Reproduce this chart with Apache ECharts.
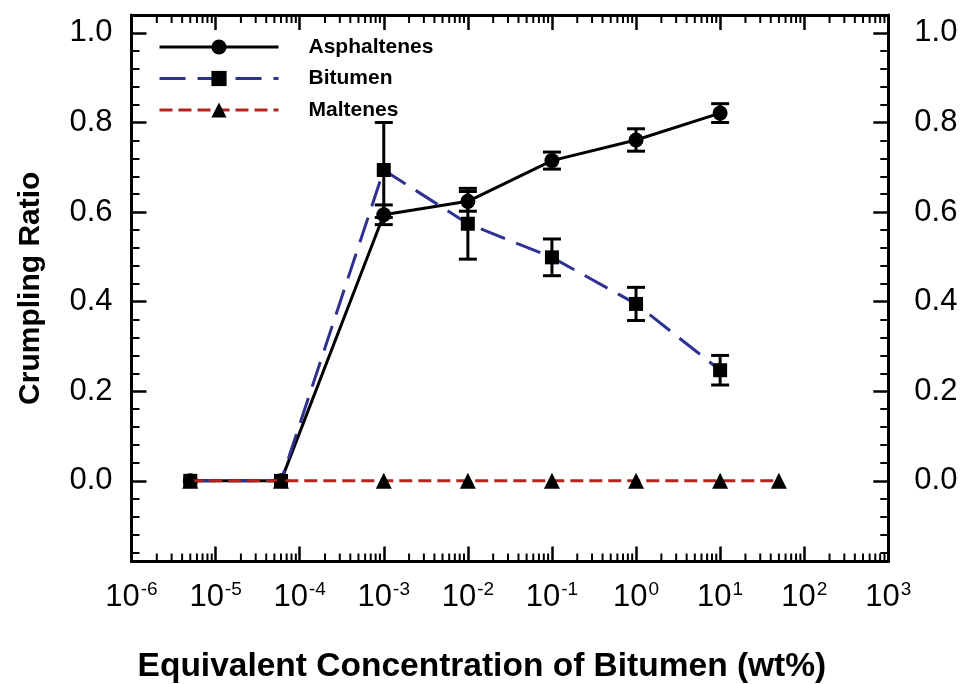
<!DOCTYPE html>
<html>
<head>
<meta charset="utf-8">
<script src="https://cdn.jsdelivr.net/npm/echarts@6/dist/echarts.min.js"></script>
<style>
  html, body { margin: 0; padding: 0; background: #fff; }
  #chart { width: 967px; height: 684px; }
</style>
</head>
<body>
<div id="chart"></div>
<script>
// Equivalent bitumen concentration (wt%) for each measurement
const concentrations = [5e-6, 6e-5, 1e-3, 1e-2, 1e-1, 1, 10];
const malteneConcentrations = [5e-6, 6e-5, 1e-3, 1e-2, 1e-1, 1, 10, 50];

// Crumpling ratio and standard deviation per fraction
const asphaltenes = [0, 0, 0.594, 0.624, 0.715, 0.761, 0.821];
const asphaltenesErr = [0, 0, 0.022, 0.022, 0.019, 0.025, 0.021];
const bitumen = [0, 0, 0.694, 0.574, 0.499, 0.395, 0.247];
const bitumenErr = [0, 0, 0.106, 0.079, 0.041, 0.037, 0.033];
const maltenes = [0, 0, 0, 0, 0, 0, 0, 0];

// Axis ranges and tick labels
const xMin = 1e-6, xMax = 1e3;
const yMin = -0.18, yMax = 1.04;
const yTickLabels = ['0.0', '0.2', '0.4', '0.6', '0.8', '1.0'];
const logMinorMultipliers = [2, 3, 4, 5, 6, 7, 8, 9];

const FONT = 'Liberation Sans, Arial, Helvetica, sans-serif';

function pairs(xs, ys) { return xs.map((x, i) => [x, ys[i]]); }
function errRows(xs, ys, es) {
  const out = [];
  xs.forEach((x, i) => { if (es[i] > 0) out.push([x, ys[i] - es[i], ys[i] + es[i]]); });
  return out;
}

// positions of the 2..9 minor ticks within each decade
const minorTickValues = [];
for (let e = Math.log10(xMin); e < Math.log10(xMax); e++) {
  logMinorMultipliers.forEach(m => minorTickValues.push([m * Math.pow(10, e)]));
}

const chart = echarts.init(document.getElementById('chart'), null, { renderer: 'canvas' });

const frameLine = { show: true, onZero: false, lineStyle: { color: '#000', width: 3 } };

function yAxisLabel(v) {
  const s = v.toFixed(1);
  return yTickLabels.indexOf(s) >= 0 && Math.abs(v * 5 - Math.round(v * 5)) < 1e-6 ? s : '';
}

function errorBarRender(params, api) {
  const x = api.value(0);
  const lo = api.coord([x, api.value(1)]);
  const hi = api.coord([x, api.value(2)]);
  const w = 9;
  const st = { stroke: '#000', lineWidth: 3 };
  return {
    type: 'group',
    children: [
      { type: 'line', shape: { x1: lo[0], y1: lo[1], x2: hi[0], y2: hi[1] }, style: st },
      { type: 'line', shape: { x1: lo[0] - w, y1: lo[1], x2: lo[0] + w, y2: lo[1] }, style: st },
      { type: 'line', shape: { x1: hi[0] - w, y1: hi[1], x2: hi[0] + w, y2: hi[1] }, style: st }
    ]
  };
}

function minorTickRender(params, api) {
  const x = api.coord([api.value(0), 0])[0];
  const cs = params.coordSys;
  const top = cs.y, bottom = cs.y + cs.height;
  const st = { stroke: '#000', lineWidth: 2 };
  return {
    type: 'group',
    children: [
      { type: 'line', shape: { x1: x, y1: bottom, x2: x, y2: bottom - 8 }, style: st },
      { type: 'line', shape: { x1: x, y1: top, x2: x, y2: top + 8 }, style: st }
    ]
  };
}

const option = {
  animation: false,
  backgroundColor: '#fff',
  textStyle: { fontFamily: FONT },
  grid: { left: 131.5, right: 78.7, top: 15, bottom: 122.5, containLabel: false, outerBoundsMode: 'none' },
  legend: {
    data: ['Asphaltenes', 'Bitumen', 'Maltenes'],
    orient: 'vertical',
    left: 158,
    top: 36.5,
    padding: 0,
    itemWidth: 119,
    itemHeight: 19,
    itemGap: 10.5,
    selectedMode: false,
    lineStyle: { width: 3 },
    textStyle: { fontFamily: FONT, fontWeight: 'bold', fontSize: 21, lineHeight: 19, color: '#000', padding: [0, 0, 0, 25] }
  },
  xAxis: [
    {
      type: 'log', logBase: 10, min: xMin, max: xMax, splitNumber: 9,
      position: 'bottom',
      name: 'Equivalent Concentration of Bitumen (wt%)',
      nameLocation: 'middle',
      nameGap: 88,
      nameTextStyle: { fontFamily: FONT, fontWeight: 'bold', fontSize: 33.5, color: '#000', padding: [0, 56, 0, 0] },
      axisLine: frameLine,
      axisTick: { show: true, inside: true, length: 15, lineStyle: { color: '#000', width: 2.5 } },
      splitLine: { show: false },
      axisLabel: {
        margin: 19,
        color: '#000',
        formatter: v => '{b|10}{s|' + Math.round(Math.log10(v)) + '}',
        rich: {
          b: { fontFamily: FONT, fontSize: 31, color: '#000', lineHeight: 34 },
          s: { fontFamily: FONT, fontSize: 19, color: '#000', verticalAlign: 'top', lineHeight: 34, padding: [0, 0, 12, 1] }
        }
      }
    },
    {
      type: 'log', logBase: 10, min: xMin, max: xMax, splitNumber: 9,
      position: 'top',
      axisLine: frameLine,
      axisTick: { show: true, inside: true, length: 15, lineStyle: { color: '#000', width: 2.5 } },
      axisLabel: { show: false },
      splitLine: { show: false }
    }
  ],
  yAxis: [
    {
      type: 'value', min: yMin, max: yMax, splitNumber: 5,
      position: 'left',
      name: 'Crumpling Ratio',
      nameLocation: 'middle',
      nameRotate: 90,
      nameGap: 86,
      nameTextStyle: { fontFamily: FONT, fontWeight: 'bold', fontSize: 30, color: '#000' },
      axisLine: frameLine,
      axisTick: { show: true, inside: true, length: 15, lineStyle: { color: '#000', width: 2.5 } },
      minorTick: { show: true, splitNumber: 5, length: 8, lineStyle: { color: '#000', width: 2 } },
      splitLine: { show: false },
      minorSplitLine: { show: false },
      axisLabel: { showMinLabel: false, showMaxLabel: false, margin: 19, fontFamily: FONT, fontSize: 31, color: '#000', formatter: yAxisLabel }
    },
    {
      type: 'value', min: yMin, max: yMax, splitNumber: 5,
      position: 'right',
      axisLine: frameLine,
      axisTick: { show: true, inside: true, length: 15, lineStyle: { color: '#000', width: 2.5 } },
      minorTick: { show: true, splitNumber: 5, length: 8, lineStyle: { color: '#000', width: 2 } },
      splitLine: { show: false },
      minorSplitLine: { show: false },
      axisLabel: { showMinLabel: false, showMaxLabel: false, margin: 26, fontFamily: FONT, fontSize: 31, color: '#000', formatter: yAxisLabel }
    }
  ],
  series: [
    {
      name: 'log minor ticks',
      type: 'custom',
      xAxisIndex: 0, yAxisIndex: 0,
      silent: true,
      clip: false,
      data: minorTickValues,
      encode: { x: 0 },
      renderItem: minorTickRender,
      z: 5
    },
    {
      name: 'Asphaltenes',
      type: 'line',
      data: pairs(concentrations, asphaltenes),
      symbol: 'circle', symbolSize: 15,
      itemStyle: { color: '#000' },
      lineStyle: { color: '#000', width: 3, type: 'solid' },
      z: 3
    },
    {
      name: 'Bitumen',
      type: 'line',
      data: pairs(concentrations, bitumen),
      symbol: 'rect', symbolSize: 14,
      itemStyle: { color: '#000' },
      lineStyle: { color: '#2d3190', width: 3, type: [26, 12] },
      z: 4
    },
    {
      name: 'Maltenes',
      type: 'line',
      data: pairs(malteneConcentrations, maltenes),
      symbol: 'triangle', symbolSize: 16,
      itemStyle: { color: '#000' },
      lineStyle: { color: '#b3241d', width: 3, type: [13, 6] },
      z: 5
    },
    {
      name: 'Asphaltenes error',
      type: 'custom',
      data: errRows(concentrations, asphaltenes, asphaltenesErr),
      encode: { x: 0, y: [1, 2] },
      renderItem: errorBarRender,
      silent: true,
      z: 6
    },
    {
      name: 'Bitumen error',
      type: 'custom',
      data: errRows(concentrations, bitumen, bitumenErr),
      encode: { x: 0, y: [1, 2] },
      renderItem: errorBarRender,
      silent: true,
      z: 6
    }
  ]
};

chart.setOption(option);
</script>
</body>
</html>
